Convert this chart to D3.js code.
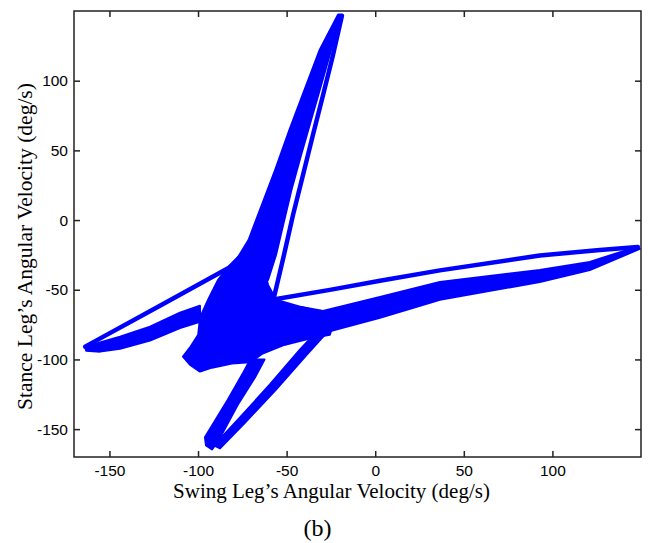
<!DOCTYPE html>
<html>
<head>
<meta charset="utf-8">
<script src="https://d3js.org/d3.v7.min.js"></script>
<style>
  body { margin: 0; background: #fff; }
  .tick text { font-family: "Liberation Sans", Arial, sans-serif; font-size: 15.5px; fill: #000; }
  .tick line { stroke: #222; stroke-width: 1.5; }
  .label { font-family: "Liberation Serif", "Times New Roman", serif; fill: #000; }
</style>
</head>
<body>
<svg id="chart" width="654" height="543"></svg>
<script>
// axis ticks
const xTicks = [-150, -100, -50, 0, 50, 100];
const yTicks = [-150, -100, -50, 0, 50, 100];

// thick bands swept by the overlapping gait cycles, [swing, stance] in deg/s
const upperBand = [[-79,-30],[-71.5,-14.3],[-64,10.7],[-56.5,35.8],[-48.5,64.4],[-40,93],[-31.5,121.6],[-21,147.4],
  [-19.4,147.4],[-25,121.6],[-30.6,96.6],[-36.3,71.5],[-41.9,46.5],[-47.3,21.5],[-52,-3.6],[-56,-25],[-60.5,-42.9]];
const rightBand = [[-42.5,-62.2],[-31.2,-65.8],[2.7,-55.1],[36.5,-44.4],[92.9,-35.8],[121.1,-30],[147.6,-19.3],
  [149.3,-20.7],[121.1,-35.8],[92.9,-44.4],[36.5,-57.2],[2.7,-70.1],[-35.2,-83],[-51,-89.4]];
const leftBand = [[-163.7,-90.8],[-144,-83.7],[-127.1,-76.5],[-110.2,-66.5],[-98.9,-61.5],
  [-98.9,-73],[-110.2,-77.5],[-127.1,-86.5],[-144,-92.3],[-155.3,-94.4],[-163.2,-93.7]];
const lowerBandA = [[-96.1,-155.9],[-83.1,-128.8],[-74.1,-108.7],[-70.5,-100.1],[-62.5,-100.1],[-67.9,-113],
  [-77.5,-132.3],[-88.7,-158.8],[-92.1,-164.5],[-95.5,-161.7]];
const lowerBandB = [[-91,-161.7],[-76.3,-141.6],[-59.4,-118],[-42.5,-93],[-33.5,-80.8],[-29,-83],
  [-39.1,-97.3],[-56,-121.6],[-72.9,-144.5],[-87.6,-163.8]];
const coreCluster = [[-76.3,-25],[-63.9,-30],[-60.5,-46.5],[-56,-57.2],[-42.5,-62.2],[-30.1,-65.1],[-22.7,-70.1],
  [-25.6,-82.3],[-35.2,-84.4],[-51,-89.4],[-63.9,-96],[-70.7,-102],[-80.9,-103],[-92.1,-105.9],[-98.9,-108.7],
  [-104.6,-103.7],[-108.5,-98],[-104.6,-91.6],[-99.9,-82.3],[-98.9,-70.1],[-94.3,-57.2],[-88.7,-42.9],[-81.9,-32.2]];

// thin single strokes
const upperReturn = [[-18.8,146.6],[-23.9,118],[-29.5,89.4],[-35.2,60.8],[-40.8,32.2],[-46.4,3.6],[-51.5,-25],[-57.2,-55.8]];
const rightOutgoing = [[-58.3,-57.2],[-25.6,-50.1],[2.7,-43.6],[36.5,-36.1],[92.9,-25.4],[126.8,-21.5],[148.2,-19.3]];
const leftOutgoing = [[-163.7,-90.8],[-121.5,-61.5],[-74.6,-28.6]];

const svg = d3.select('#chart');
svg.append('rect').attr('width', 654).attr('height', 543).attr('fill', '#fff');

const plotL = 74, plotR = 641, plotT = 11, plotB = 457;
const x = d3.scaleLinear().domain([-170, 150]).range([plotL, plotR]);
const y = d3.scaleLinear().domain([-170, 150]).range([plotB, plotT]);
const fmt = d => String(d);  // plain hyphen minus, as in the original

svg.append('clipPath').attr('id', 'plotClip')
  .append('rect').attr('x', plotL).attr('y', plotT).attr('width', plotR - plotL).attr('height', plotB - plotT);

const plot = svg.append('g').attr('clip-path', 'url(#plotClip)');
const line = d3.line().x(d => x(d[0])).y(d => y(d[1]));

// filled bands
const bands = [coreCluster, upperBand, rightBand, leftBand, lowerBandA, lowerBandB];
plot.selectAll('.band').data(bands).enter().append('path')
  .attr('class', 'band')
  .attr('d', d => line(d) + 'Z')
  .attr('fill', '#0000ff')
  .attr('stroke', '#0000ff')
  .attr('stroke-width', 2)
  .attr('stroke-linejoin', 'round');

// thin strokes
plot.selectAll('.stroke').data([upperReturn, rightOutgoing, leftOutgoing]).enter().append('path')
  .attr('class', 'stroke')
  .attr('d', line)
  .attr('fill', 'none')
  .attr('stroke', '#0000ff')
  .attr('stroke-width', 4.5)
  .attr('stroke-linejoin', 'round')
  .attr('stroke-linecap', 'round');

// axes, ticks pointing inward on all four sides
svg.append('g').attr('transform', `translate(0,${plotB})`)
  .call(d3.axisBottom(x).tickValues(xTicks).tickFormat(fmt).tickSize(-6).tickSizeOuter(0).tickPadding(8))
  .call(g => g.select('.domain').remove());
svg.append('g').attr('transform', `translate(0,${plotT})`)
  .call(d3.axisTop(x).tickValues(xTicks).tickSize(-6).tickSizeOuter(0).tickFormat(''))
  .call(g => g.select('.domain').remove());
svg.append('g').attr('transform', `translate(${plotL},0)`)
  .call(d3.axisLeft(y).tickValues(yTicks).tickFormat(fmt).tickSize(-6).tickSizeOuter(0).tickPadding(6))
  .call(g => g.select('.domain').remove());
svg.append('g').attr('transform', `translate(${plotR},0)`)
  .call(d3.axisRight(y).tickValues(yTicks).tickSize(-6).tickSizeOuter(0).tickFormat(''))
  .call(g => g.select('.domain').remove());

svg.selectAll('g[font-family]').attr('font-family', null).attr('font-size', null);

svg.append('rect')
  .attr('x', plotL).attr('y', plotT).attr('width', plotR - plotL).attr('height', plotB - plotT)
  .attr('fill', 'none').attr('stroke', '#222').attr('stroke-width', 1.5);

// labels
svg.append('text').attr('class', 'label')
  .attr('x', 331.5).attr('y', 498)
  .attr('text-anchor', 'middle').style('font-size', '21px')
  .text('Swing Leg\u2019s Angular Velocity (deg/s)');

svg.append('text').attr('class', 'label')
  .attr('transform', 'translate(32,246.5) rotate(-90)')
  .attr('text-anchor', 'middle').style('font-size', '21.5px')
  .text('Stance Leg\u2019s Angular Velocity (deg/s)');

svg.append('text').attr('class', 'label')
  .attr('x', 317.5).attr('y', 536)
  .attr('text-anchor', 'middle').style('font-size', '24px')
  .text('(b)');
</script>
</body>
</html>
